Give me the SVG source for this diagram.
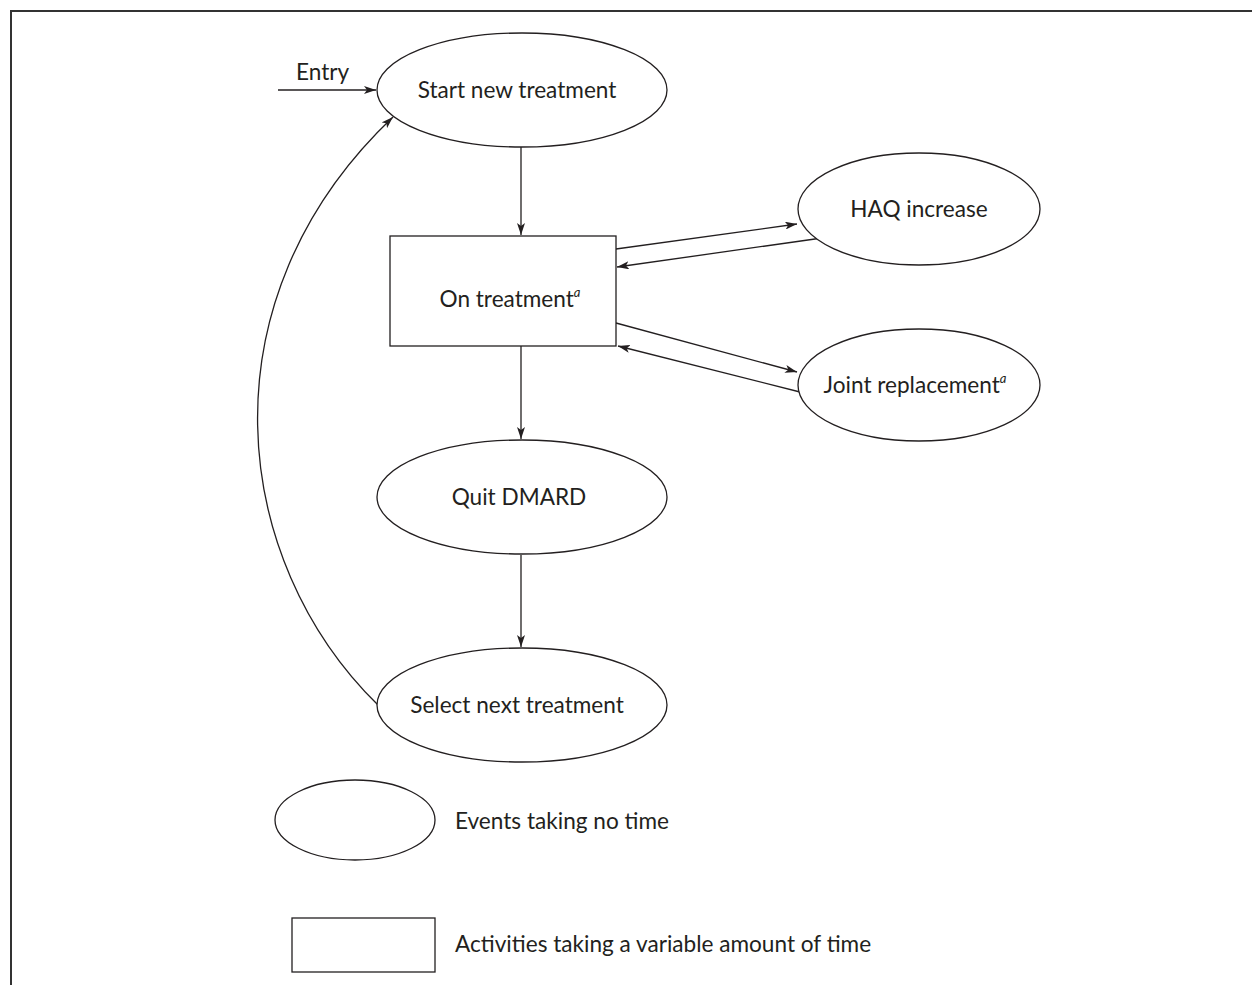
<svg xmlns="http://www.w3.org/2000/svg" width="1252" height="985" viewBox="0 0 1252 985">
  <style>
    .shape { fill: #ffffff; stroke: #231f20; stroke-width: 1.3; }
    .edge { fill: none; stroke: #231f20; stroke-width: 1.3; marker-end: url(#arrow); }
    .label { font-family: Lato, "Open Sans", "Liberation Sans", sans-serif; font-size: 22.6px; fill: #231f20; }
    .mid { text-anchor: middle; }
    .sup { font-size: 13px; font-style: italic; }
  </style>
  <defs>
    <marker id="arrow" viewBox="0 0 12 8" refX="12" refY="4" markerWidth="12" markerHeight="8" markerUnits="userSpaceOnUse" orient="auto">
      <path d="M0,0 L12,4 L0,8 L3,4 Z" fill="#231f20"/>
    </marker>
  </defs>
  <rect width="1252" height="985" fill="#ffffff"/>
  <!-- frame -->
  <path d="M11,985 V11 H1252" fill="none" stroke="#333333" stroke-width="2"/>

  <g id="connectors">
    <line class="edge" x1="278" y1="90" x2="376" y2="90"/>
    <line class="edge" x1="521" y1="147" x2="521" y2="235"/>
    <line class="edge" x1="616" y1="249" x2="797" y2="224"/>
    <line class="edge" x1="822" y1="238" x2="617" y2="267"/>
    <line class="edge" x1="616" y1="323" x2="797" y2="372"/>
    <line class="edge" x1="800" y1="392" x2="618" y2="346"/>
    <line class="edge" x1="521" y1="346" x2="521" y2="439"/>
    <line class="edge" x1="521" y1="555" x2="521" y2="647"/>
    <path class="edge" d="M378,705 C230,560 200,300 393,117"/>
  </g>
  <text class="label" x="296" y="80">Entry</text>

  <g id="start-new-treatment">
    <ellipse class="shape" cx="522" cy="90" rx="145" ry="57"/>
    <text class="label mid" x="517" y="98">Start new treatment</text>
  </g>
  <g id="on-treatment">
    <rect class="shape" x="390" y="236" width="226" height="110"/>
    <text class="label mid" x="510" y="307">On treatment<tspan class="sup" dy="-10">a</tspan></text>
  </g>
  <g id="haq-increase">
    <ellipse class="shape" cx="919" cy="209" rx="121" ry="56"/>
    <text class="label mid" x="919" y="217">HAQ increase</text>
  </g>
  <g id="joint-replacement">
    <ellipse class="shape" cx="919" cy="385" rx="121" ry="56"/>
    <text class="label mid" x="915" y="393">Joint replacement<tspan class="sup" dy="-10">a</tspan></text>
  </g>
  <g id="quit-dmard">
    <ellipse class="shape" cx="522" cy="497" rx="145" ry="57"/>
    <text class="label mid" x="519" y="505">Quit DMARD</text>
  </g>
  <g id="select-next-treatment">
    <ellipse class="shape" cx="522" cy="705" rx="145" ry="57"/>
    <text class="label mid" x="517" y="713">Select next treatment</text>
  </g>

  <g id="legend-event">
    <ellipse class="shape" cx="355" cy="820" rx="80" ry="40"/>
    <text class="label" x="455" y="829">Events taking no time</text>
  </g>
  <g id="legend-activity">
    <rect class="shape" x="292" y="918" width="143" height="54"/>
    <text class="label" x="455" y="952">Activities taking a variable amount of time</text>
  </g>
</svg>
